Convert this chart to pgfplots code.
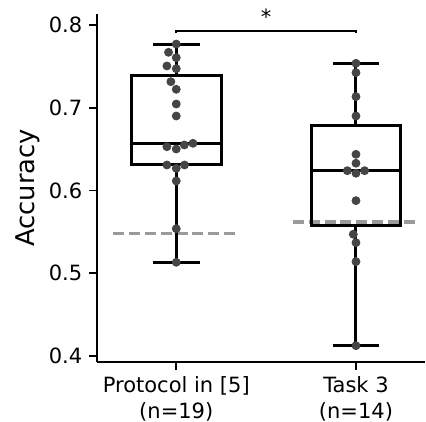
\documentclass[border=0pt]{standalone}
\usepackage{fontspec}
\setmainfont{DejaVu Sans}
\usepackage{pgfplots}
\pgfplotsset{compat=1.18}

\definecolor{ptgray}{RGB}{69,69,69}
\definecolor{refgray}{RGB}{154,154,154}

\begin{document}
\begin{tikzpicture}
\begin{axis}[
    scale only axis,
    width=164pt, height=174pt,
    xmin=-0.441, xmax=1.384,
    ymin=0.3927, ymax=0.8133,
    axis x line*=bottom, axis y line*=left,
    axis line style={line width=0.8pt},
    tick align=outside,
    major tick length=3.85pt,
    tick style={black, line width=0.8pt},
    xtick={0,1},
    xticklabels={{Protocol in [5]\\(n=19)},{Task 3\\(n=14)}},
    xticklabel style={align=center, font=\fontsize{10.5}{12.8}\selectfont},
    ytick={0.4,0.5,0.6,0.7,0.8},
    yticklabel style={font=\fontsize{10.5}{12.8}\selectfont,
        /pgf/number format/fixed, /pgf/number format/fixed zerofill,
        /pgf/number format/precision=1},
    /pgf/number format/assume math mode=true,
    ylabel={Accuracy},
    ylabel style={font=\fontsize{12.9}{15}\selectfont,
        at={([xshift=-31pt]rel axis cs:0,0.5)}, anchor=base},
    clip=false,
    boxln/.style={black, line width=1.5pt, solid, mark=none},
]
% chance-level reference lines
\addplot[refgray, line width=1.6pt, dash pattern=on 5.5pt off 2.4pt]
    coordinates {(-0.35,0.548) (0.35,0.548)};
\addplot[refgray, line width=1.6pt, dash pattern=on 5.5pt off 2.4pt]
    coordinates {(0.65,0.562) (1.35,0.562)};

% box 1: whiskers 0.5132 / 0.777, quartiles 0.6308 / 0.7394, median 0.657
\addplot[boxln] coordinates {(0,0.5132) (0,0.6308)};
\addplot[boxln] coordinates {(0,0.7394) (0,0.777)};
\addplot[boxln] coordinates {(-0.13,0.5132) (0.13,0.5132)};
\addplot[boxln] coordinates {(-0.13,0.777) (0.13,0.777)};
\addplot[boxln] coordinates {(-0.25,0.6308) (0.25,0.6308) (0.25,0.7394) (-0.25,0.7394) (-0.25,0.6308)} -- cycle;
\addplot[boxln] coordinates {(-0.25,0.657) (0.25,0.657)};

% box 2: whiskers 0.4124 / 0.7537, quartiles 0.5573 / 0.6784, median 0.6239
\addplot[boxln] coordinates {(1,0.4124) (1,0.5573)};
\addplot[boxln] coordinates {(1,0.6784) (1,0.7537)};
\addplot[boxln] coordinates {(0.87,0.4124) (1.13,0.4124)};
\addplot[boxln] coordinates {(0.87,0.7537) (1.13,0.7537)};
\addplot[boxln] coordinates {(0.75,0.5573) (1.25,0.5573) (1.25,0.6784) (0.75,0.6784) (0.75,0.5573)} -- cycle;
\addplot[boxln] coordinates {(0.75,0.6239) (1.25,0.6239)};

% swarm points
\addplot[only marks, mark=*, mark size=2pt, color=ptgray] coordinates {
    (0,0.777) (-0.043,0.767) (0,0.7605) (-0.052,0.7505) (0,0.7472)
    (-0.030,0.7315) (0,0.7223) (0,0.7045) (0,0.690)
    (-0.052,0.6529) (0,0.6501) (0.045,0.655) (0.093,0.657)
    (-0.052,0.6308) (0,0.6268) (0.046,0.6308)
    (0,0.6115) (0,0.5538) (0,0.5132)
};
\addplot[only marks, mark=*, mark size=2pt, color=ptgray] coordinates {
    (1,0.7537) (1,0.7424) (1,0.7134) (1,0.690) (1,0.6437) (1,0.6329)
    (0.952,0.6239) (1,0.6208) (1.048,0.6239) (1,0.5877)
    (0.985,0.5471) (1,0.5369) (1,0.5140) (1,0.4124)
};

% significance bracket
\addplot[black, line width=1pt] coordinates {(0,0.790) (0,0.7931) (1,0.7931) (1,0.790)};
\node[anchor=base, inner sep=0pt, font=\fontsize{10.5}{12.8}\selectfont]
    at (axis cs:0.5,0.8012) {*};

\coordinate (bl) at (rel axis cs:0,0);
\coordinate (tr) at (rel axis cs:1,1);
\end{axis}
\pgfresetboundingbox
\path ([xshift=-48.5pt,yshift=-30pt]bl) rectangle ([xshift=0.5pt,yshift=7pt]tr);
\end{tikzpicture}
\end{document}
